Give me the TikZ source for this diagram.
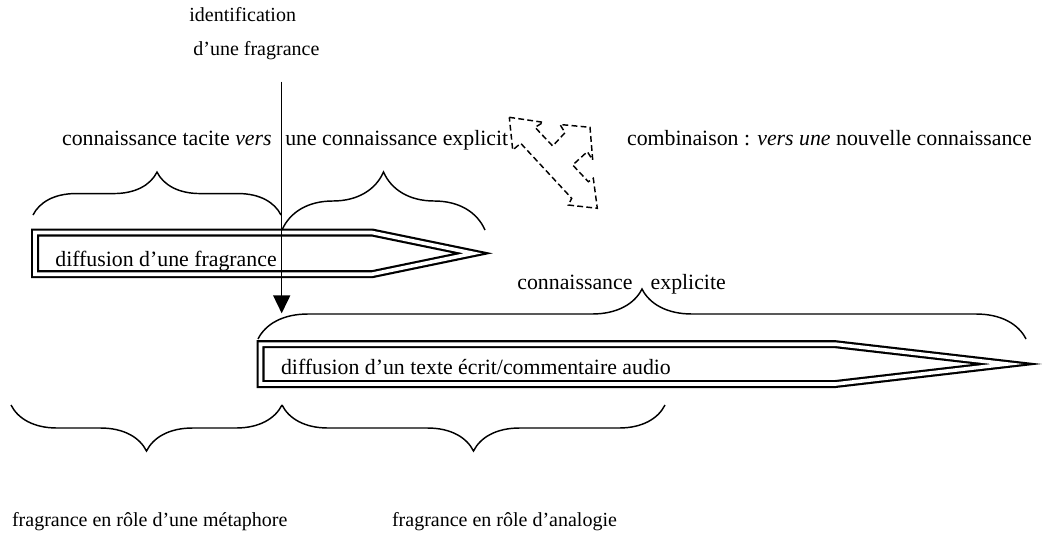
\documentclass[tikz,border=0pt]{standalone}
\usepackage{fontspec}
\setmainfont{Liberation Serif}
\usetikzlibrary{arrows.meta, decorations.pathreplacing}

\begin{document}
\begin{tikzpicture}[
      x=0.55pt, y=-0.55pt,
      txt/.style={anchor=base west, inner sep=0pt,
        font=\fontsize{12}{14}\selectfont},
      smalltxt/.style={anchor=base west, inner sep=0pt,
        font=\fontsize{11}{13}\selectfont},
      flow/.style={draw, double, line width=1.2pt, double distance=2pt,
        miter limit=14},
      brc/.style={decorate, line width=0.8pt,
        decoration={brace, amplitude=#1, aspect=0.5}},
      brcdown/.style={decorate, line width=0.8pt,
        decoration={brace, mirror, amplitude=#1, aspect=0.5}},
      combo/.style={draw, dash pattern=on 3.2pt off 1.8pt, line width=0.8pt},
      >={Triangle[length=9.9pt, width=9.4pt]}
    ]
      \useasboundingbox (0,0) rectangle (1042,537);

      % labels
      \node[smalltxt] (ident) at (189,21.7) {identification};
      \node[smalltxt] (identfrag) at (193,55) {d’une fragrance};
      \node[txt] (tacit) at (61.7,145)
        {connaissance tacite \textit{vers}\hspace{7.5pt}une connaissance explicit};
      \node[txt] (combo) at (626.7,145)
        {combinaison : \textit{vers une} nouvelle connaissance};
      \node[txt] (explicit) at (517,289)
        {connaissance\hspace{10pt}explicite};
      \node[smalltxt] (metaphor) at (11.7,526) {fragrance en rôle d’une métaphore};
      \node[smalltxt] (analogy) at (391.7,526) {fragrance en rôle d’analogie};

      % the two flows
      \node[txt] (fragdiff) at (55,266) {diffusion d’une fragrance};
      \draw[flow] (35,232.5) -- (372,232.5) -- (473,253.3) -- (372,274.2)
        -- (35,274.2) -- cycle;
      \node[txt] (textdiff) at (280.7,374)
        {diffusion d’un texte écrit/commentaire audio};
      \draw[flow] (260.5,344.2) -- (835.5,344.2) -- (1007.3,364)
        -- (835.5,384) -- (260.5,384) -- cycle;

      % braces
      \draw[brc=23.6pt] (33,215) -- (281,215);
      \draw[brc=31.9pt] (282,230) -- (485,230);
      \draw[brc=27.5pt] (258,339) -- (1026,339);
      \draw[brcdown=25.3pt] (11,405) -- (282,405);
      \draw[brcdown=25.3pt] (282,405) -- (665,405);

      % three-way dashed arrow
      \draw[combo] (509.3,117.3) -- (543.3,122.3) -- (535,127.3)
        -- (552.7,146) -- (565,132.7) -- (560,124.5) -- (590,127.3)
        -- (592.7,160) -- (587.3,151.7) -- (572.7,165) -- (588.3,181.7)
        -- (593.3,178.3) -- (597.3,208.3) -- (568.3,205) -- (571.7,198.3)
        -- (520.7,143.3) -- (512.7,150) -- cycle;

      % identification arrow
      \coordinate (drop) at (281.7,81.7);
      \coordinate (droptip) at (281.7,313.3);
      \draw[->, line width=0.8pt] (drop) -- (droptip);
    \end{tikzpicture}
\end{document}
